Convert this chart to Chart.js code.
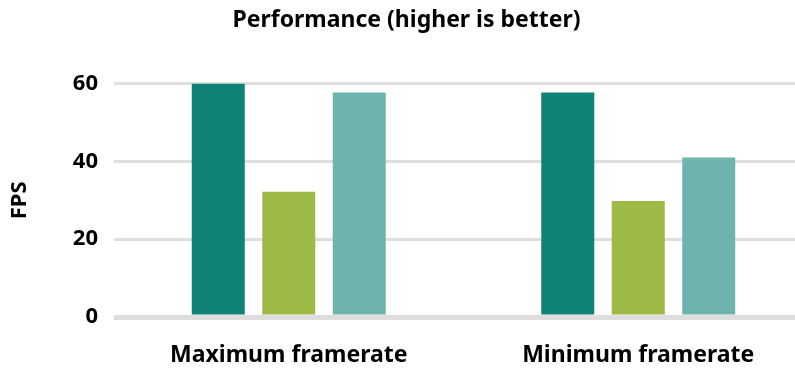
<!DOCTYPE html>
<html>
<head>
<meta charset="utf-8">
<script src="https://cdn.jsdelivr.net/npm/chart.js@4.4.1/dist/chart.umd.min.js"></script>
<style>
  html, body { margin: 0; padding: 0; background: #fff; overflow: hidden; }
  #wrap { position: relative; width: 813px; height: 369px; }
</style>
</head>
<body>
<div id="wrap"><canvas id="perf"></canvas></div>
<script>
const categories = ['Maximum framerate', 'Minimum framerate'];
const seriesA = [60, 57.7];
const seriesB = [32.2, 29.8];
const seriesC = [57.7, 41];
const yTicks = [0, 20, 40, 60];

const fontFamily = "'Noto Sans', sans-serif";

var ctx = document.getElementById('perf').getContext('2d');
var chart = new Chart(ctx, {
    type: 'bar',
    data: {
        labels: categories,
        datasets: [
            { label: 'A', data: seriesA, backgroundColor: '#0e8275' },
            { label: 'B', data: seriesB, backgroundColor: '#9cba45' },
            { label: 'C', data: seriesC, backgroundColor: '#6db4ae' }
        ]
    },
    options: {
        responsive: true,
        maintainAspectRatio: false,
        animation: false,
        layout: { padding: { top: 0, right: 0, bottom: 0, left: 0 } },
        categoryPercentage: 0.605,
        barPercentage: 0.752,
        plugins: {
            legend: { display: false },
            tooltip: { enabled: false },
            title: {
                display: true,
                text: 'Performance (higher is better)',
                color: '#000',
                font: { family: fontFamily, size: 23, weight: 'bold' },
                padding: { top: 7, bottom: 49 }
            }
        },
        scales: {
            x: {
                grid: { display: false, drawTicks: false },
                border: { display: false },
                ticks: {
                    color: '#000',
                    font: { family: fontFamily, size: 23, weight: 'bold' },
                    padding: 25
                },
                afterFit: function (scale) { scale.height = 52; }
            },
            y: {
                min: 0,
                max: 60,
                afterBuildTicks: function (scale) {
                    scale.ticks = yTicks.map(function (v) { return { value: v }; });
                },
                grid: {
                    color: '#dedede',
                    lineWidth: function (c) { return c.tick && c.tick.value === 0 ? 5 : 3; },
                    drawTicks: false
                },
                border: { display: false },
                ticks: {
                    color: '#000',
                    font: { family: fontFamily, size: 22, weight: 'bold' },
                    padding: 16
                },
                title: {
                    display: true,
                    text: 'FPS',
                    color: '#000',
                    font: { family: fontFamily, size: 22, weight: 'bold' },
                    padding: { top: 7, bottom: 15 }
                },
                afterFit: function (scale) { scale.width = 114; }
            }
        }
    }
});
</script>
</body>
</html>
